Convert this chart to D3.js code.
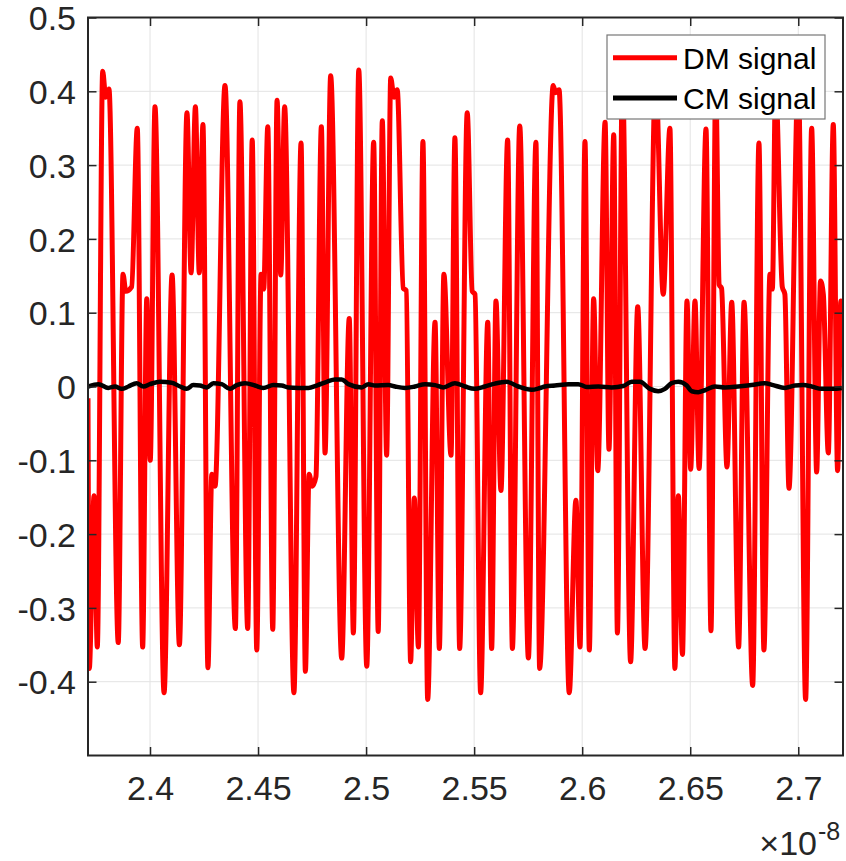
<!DOCTYPE html>
<html>
<head>
<meta charset="utf-8">
<script src="https://cdn.jsdelivr.net/npm/d3@7"></script>
<style>
  html, body { margin: 0; padding: 0; background: #fff; }
  svg { display: block; }
  text { font-family: "Liberation Sans", Arial, Helvetica, sans-serif; }
</style>
</head>
<body>
<div id="chart"></div>
<script>
// Time axis in units of 1e-8 s
const xTicks = [2.4, 2.45, 2.5, 2.55, 2.6, 2.65, 2.7];
const xTickLabels = ["2.4", "2.45", "2.5", "2.55", "2.6", "2.65", "2.7"];
const yTicks = [-0.4, -0.3, -0.2, -0.1, 0, 0.1, 0.2, 0.3, 0.4, 0.5];
const yTickLabels = ["-0.4", "-0.3", "-0.2", "-0.1", "0", "0.1", "0.2", "0.3", "0.4", "0.5"];
const xDomain = [2.3713, 2.7207];
const yDomain = [-0.5, 0.5];

// Differential-mode signal: turning points of the waveform
const tDM = [
  2.3713, 2.3719, 2.3741, 2.3756, 2.3781, 2.3795, 2.3810, 2.3853, 2.3875, 2.3888,
  2.3915, 2.3941, 2.3966, 2.3985, 2.4001, 2.4023, 2.4065, 2.4102, 2.4136, 2.4171,
  2.4190, 2.4210, 2.4228, 2.4245, 2.4268, 2.4286, 2.4301, 2.4347, 2.4395, 2.4416,
  2.4452, 2.4473, 2.4494, 2.4514, 2.4526, 2.4545, 2.4568, 2.4588, 2.4605, 2.4623,
  2.4666, 2.4699, 2.4719, 2.4736, 2.4751, 2.4768, 2.4793, 2.4810, 2.4836, 2.4887,
  2.4922, 2.4941, 2.4966, 2.5003, 2.5035, 2.5056, 2.5075, 2.5095, 2.5114, 2.5129,
  2.5144, 2.5172, 2.5186, 2.5206, 2.5223, 2.5242, 2.5263, 2.5285, 2.5319, 2.5339,
  2.5360, 2.5393, 2.5411, 2.5433, 2.5468, 2.5491, 2.5504, 2.5530, 2.5563, 2.5581,
  2.5601, 2.5624, 2.5655, 2.5677, 2.5711, 2.5751, 2.5786, 2.5803, 2.5866, 2.5877,
  2.5893, 2.5940, 2.5971, 2.5990, 2.6013, 2.6033, 2.6053, 2.6072, 2.6106, 2.6124,
  2.6146, 2.6163, 2.6186, 2.6224, 2.6257, 2.6291, 2.6340, 2.6375, 2.6406, 2.6429,
  2.6445, 2.6464, 2.6485, 2.6502, 2.6522, 2.6541, 2.6573, 2.6596, 2.6618, 2.6634,
  2.6645, 2.6670, 2.6692, 2.6724, 2.6749, 2.6789, 2.6818, 2.6841, 2.6869, 2.6880,
  2.6895, 2.6926, 2.6938, 2.6957, 2.7000, 2.7034, 2.7062, 2.7085, 2.7103, 2.7116,
  2.7139, 2.7162, 2.7182, 2.7197, 2.7204
];
const vDM = [
  -0.016, -0.382, -0.148, -0.353, 0.427, 0.392, 0.403, -0.347, 0.152, 0.129,
  0.135, 0.350, -0.353, 0.119, -0.100, 0.379, -0.415, 0.151, -0.350, 0.371,
  0.154, 0.379, 0.154, 0.355, -0.381, -0.119, -0.135, 0.408, -0.328, 0.386,
  -0.328, 0.334, -0.357, 0.152, 0.132, 0.352, -0.329, 0.388, 0.151, 0.379,
  -0.415, 0.330, -0.386, -0.119, -0.135, -0.122, 0.352, -0.090, 0.421, -0.368,
  0.092, -0.334, 0.429, -0.379, 0.331, -0.332, 0.360, -0.093, 0.418, 0.392,
  0.402, 0.133, 0.130, -0.373, -0.151, -0.353, 0.332, -0.424, 0.087, -0.355,
  0.152, -0.093, 0.337, -0.355, 0.371, 0.129, 0.125, -0.415, 0.087, -0.355,
  0.116, -0.141, 0.334, -0.355, 0.353, -0.368, 0.331, -0.382, 0.408, 0.398,
  0.402, -0.415, -0.154, -0.353, 0.332, -0.357, 0.119, -0.114, 0.358, -0.085,
  0.341, -0.334, 0.420, -0.373, 0.108, -0.355, 0.420, 0.125, 0.350, -0.382,
  -0.148, -0.363, 0.116, -0.112, 0.116, -0.111, 0.349, -0.331, 0.410, 0.138,
  0.133, -0.109, 0.114, -0.353, 0.114, -0.405, 0.330, -0.357, 0.152, 0.132,
  0.410, 0.135, 0.125, -0.138, 0.420, -0.424, 0.350, -0.116, 0.143, 0.125,
  -0.090, 0.355, -0.114, 0.116, 0.026
];

// Common-mode signal
const tCM = [
  2.3713, 2.3761, 2.3807, 2.3838, 2.3869, 2.3900, 2.3938, 2.3969, 2.4000, 2.4046,
  2.4100, 2.4139, 2.4170, 2.4200, 2.4231, 2.4262, 2.4293, 2.4332, 2.4370, 2.4401,
  2.4440, 2.4486, 2.4524, 2.4571, 2.4609, 2.4640, 2.4686, 2.4733, 2.4771, 2.4818,
  2.4856, 2.4887, 2.4918, 2.4980, 2.5010, 2.5041, 2.5103, 2.5134, 2.5180, 2.5226,
  2.5273, 2.5319, 2.5357, 2.5411, 2.5458, 2.5501, 2.5550, 2.5596, 2.5651, 2.5704,
  2.5766, 2.5805, 2.5828, 2.5874, 2.5936, 2.5982, 2.6021, 2.6075, 2.6137, 2.6190,
  2.6229, 2.6267, 2.6314, 2.6352, 2.6383, 2.6414, 2.6445, 2.6484, 2.6507, 2.6537,
  2.6568, 2.6615, 2.6661, 2.6722, 2.6784, 2.6846, 2.6884, 2.6938, 2.6985, 2.7023,
  2.7062, 2.7108, 2.7155, 2.7201
];
const vCM = [
  0.0000, 0.0032, -0.0019, 0.0000, -0.0032, 0.0000, 0.0045, 0.0000, 0.0032, 0.0064,
  0.0051, 0.0000, -0.0032, 0.0019, 0.0013, -0.0013, 0.0045, 0.0032, -0.0032, 0.0019,
  0.0045, 0.0013, -0.0019, 0.0019, 0.0013, -0.0013, -0.0019, -0.0019, 0.0013, 0.0064,
  0.0096, 0.0096, 0.0032, -0.0013, 0.0032, 0.0013, 0.0019, 0.0000, -0.0019, 0.0000,
  0.0032, 0.0019, -0.0013, 0.0045, 0.0000, -0.0032, 0.0000, 0.0039, 0.0064, 0.0000,
  -0.0045, -0.0020, 0.0000, 0.0013, 0.0032, 0.0032, -0.0006, 0.0000, -0.0013, 0.0006,
  0.0064, 0.0064, -0.0032, -0.0064, -0.0032, 0.0045, 0.0064, 0.0013, -0.0064, -0.0077,
  -0.0051, 0.0000, -0.0013, 0.0000, 0.0019, 0.0045, 0.0019, -0.0019, 0.0013, 0.0019,
  0.0000, -0.0032, -0.0032, -0.0019
];

const seriesNames = ["DM signal", "CM signal"];
const seriesColors = ["#ff0000", "#000000"];

const W = 846, H = 861;
const plot = { left: 88, right: 843, top: 17.5, bottom: 755.5 };
const axisColor = "#262626";

const svg = d3.select("#chart").append("svg")
  .attr("width", W).attr("height", H);

const x = d3.scaleLinear().domain(xDomain).range([plot.left, plot.right]);
const y = d3.scaleLinear().domain(yDomain).range([plot.bottom, plot.top]);

svg.append("defs").append("clipPath").attr("id", "plotClip")
  .append("rect")
  .attr("x", plot.left).attr("y", plot.top)
  .attr("width", plot.right - plot.left).attr("height", plot.bottom - plot.top);

// grid
const grid = svg.append("g").attr("stroke", "#e3e3e3").attr("stroke-width", 1);
grid.selectAll("line.gx").data(xTicks).join("line")
  .attr("x1", d => x(d)).attr("x2", d => x(d))
  .attr("y1", plot.top).attr("y2", plot.bottom);
grid.selectAll("line.gy").data(yTicks.filter(d => d < 0.5)).join("line")
  .attr("x1", plot.left).attr("x2", plot.right)
  .attr("y1", d => y(d)).attr("y2", d => y(d));

// signals
const lineGen = d3.line().curve(d3.curveMonotoneX);
const dmPts = tDM.map((t, i) => [x(t), y(vDM[i])]);
const cmPts = tCM.map((t, i) => [x(t), y(vCM[i])]);
const lines = svg.append("g").attr("clip-path", "url(#plotClip)");
lines.append("path").attr("d", lineGen(dmPts))
  .attr("fill", "none").attr("stroke", seriesColors[0])
  .attr("stroke-width", 5).attr("stroke-linejoin", "round");
lines.append("path").attr("d", lineGen(cmPts))
  .attr("fill", "none").attr("stroke", seriesColors[1])
  .attr("stroke-width", 4.5).attr("stroke-linejoin", "round");

// axes: inward ticks on all four sides
const tickLen = 8.5;
const axisG = svg.append("g");
axisG.append("g").attr("transform", `translate(0,${plot.bottom})`)
  .call(d3.axisBottom(x).tickValues(xTicks).tickSizeInner(-tickLen).tickSizeOuter(0)
    .tickFormat((d, i) => xTickLabels[i]))
  .call(g => {
    g.select(".domain").remove();
    g.selectAll(".tick line").attr("stroke", axisColor).attr("stroke-width", 1.5);
    g.selectAll(".tick text").attr("fill", axisColor).attr("font-size", 34)
      .attr("y", 0).attr("dy", 0).attr("transform", "translate(0,44)")
      .attr("font-family", "'Liberation Sans', Arial, sans-serif");
  });
axisG.append("g").attr("transform", `translate(0,${plot.top})`)
  .call(d3.axisTop(x).tickValues(xTicks).tickSizeInner(-tickLen).tickSizeOuter(0).tickFormat(""))
  .call(g => {
    g.select(".domain").remove();
    g.selectAll(".tick line").attr("stroke", axisColor).attr("stroke-width", 1.5);
  });
axisG.append("g").attr("transform", `translate(${plot.left},0)`)
  .call(d3.axisLeft(y).tickValues(yTicks).tickSizeInner(-tickLen).tickSizeOuter(0)
    .tickFormat((d, i) => yTickLabels[i]))
  .call(g => {
    g.select(".domain").remove();
    g.selectAll(".tick line").attr("stroke", axisColor).attr("stroke-width", 1.5);
    g.selectAll(".tick text").attr("fill", axisColor).attr("font-size", 34)
      .attr("x", -12).attr("dy", "0.36em")
      .attr("font-family", "'Liberation Sans', Arial, sans-serif");
  });
axisG.append("g").attr("transform", `translate(${plot.right},0)`)
  .call(d3.axisRight(y).tickValues(yTicks).tickSizeInner(-tickLen).tickSizeOuter(0).tickFormat(""))
  .call(g => {
    g.select(".domain").remove();
    g.selectAll(".tick line").attr("stroke", axisColor).attr("stroke-width", 1.5);
  });

// box
svg.append("rect")
  .attr("x", plot.left).attr("y", plot.top)
  .attr("width", plot.right - plot.left).attr("height", plot.bottom - plot.top)
  .attr("fill", "none").attr("stroke", axisColor).attr("stroke-width", 2);

// exponent label
const expo = svg.append("text")
  .attr("x", 817).attr("y", 855)
  .attr("text-anchor", "end")
  .attr("fill", axisColor).attr("font-size", 34);
expo.append("tspan").text("\u00d710");
svg.append("text").attr("x", 818).attr("y", 840)
  .attr("fill", axisColor).attr("font-size", 25).text("-8");

// legend
const leg = svg.append("g");
leg.append("rect")
  .attr("x", 607).attr("y", 35).attr("width", 218).attr("height", 84)
  .attr("fill", "#fff").attr("stroke", "#777").attr("stroke-width", 1.2);
const legRows = [57.7, 98];
seriesNames.forEach((name, i) => {
  leg.append("line")
    .attr("x1", 613).attr("x2", 677)
    .attr("y1", legRows[i]).attr("y2", legRows[i])
    .attr("stroke", seriesColors[i]).attr("stroke-width", 5);
  leg.append("text")
    .attr("x", 683).attr("y", legRows[i] + 10.8)
    .attr("font-size", 30).attr("fill", "#000").text(name);
});
</script>
</body>
</html>
